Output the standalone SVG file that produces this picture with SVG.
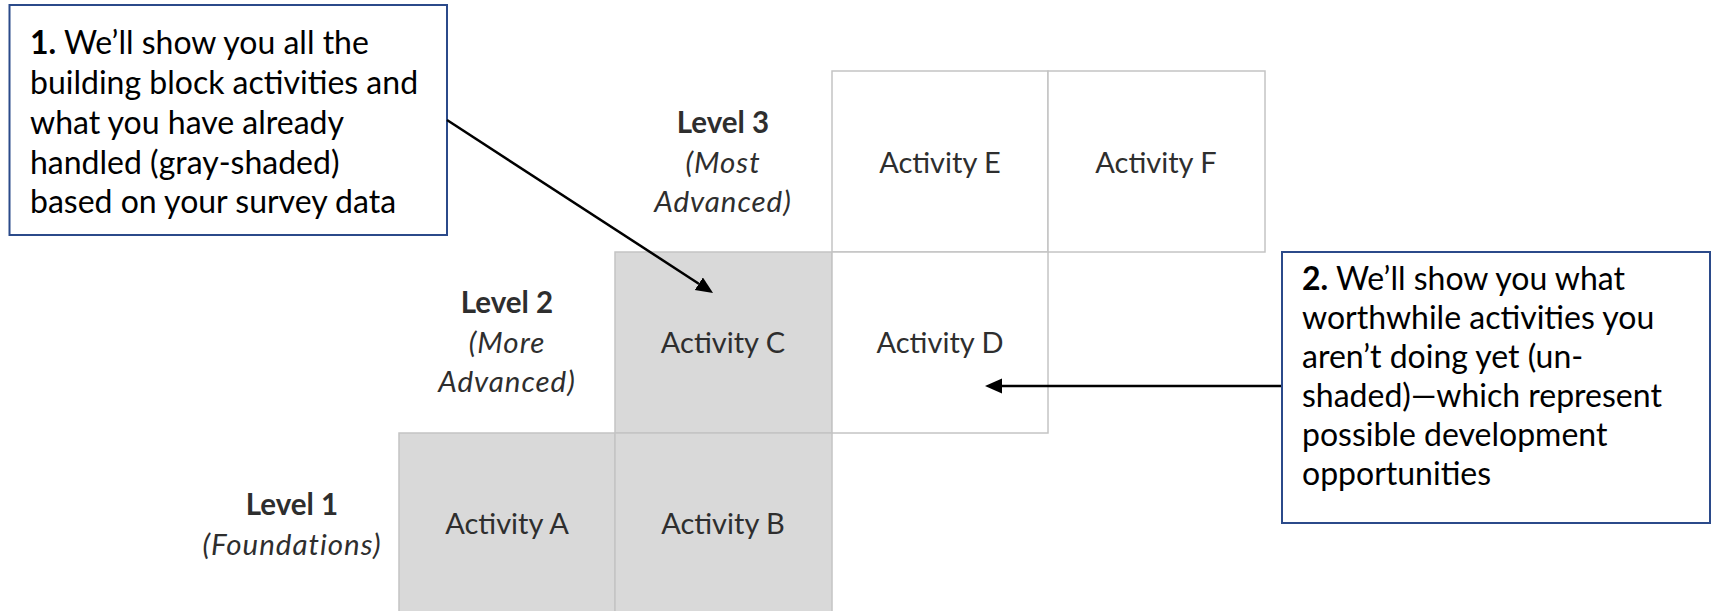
<svg xmlns="http://www.w3.org/2000/svg" width="1711" height="611" viewBox="0 0 1711 611">
<style>
.bg{fill:#ffffff}
.cell{stroke:#c4c4c4;stroke-width:1.5}
.done{fill:#d9d9d9}
.todo{fill:#ffffff}
.lbl{font-family:Lato,"Liberation Sans",sans-serif;font-size:29px;fill:#2e2e2e;text-anchor:middle}
.lvl{font-family:Lato,"Liberation Sans",sans-serif;font-size:29.5px;fill:#2e2e2e;text-anchor:middle}
.b{font-weight:bold}
.i{font-style:italic;letter-spacing:1px}
.note{fill:#ffffff;stroke:#2b4a8a;stroke-width:2}
.nt{font-family:Lato,"Liberation Sans",sans-serif;font-size:32px;fill:#000000}
.conn{stroke:#000000;stroke-width:2.5;fill:none}
</style>
<defs>
<marker id="ah" markerUnits="userSpaceOnUse" markerWidth="18" markerHeight="16" refX="0" refY="7.5" orient="auto" viewBox="0 0 18 16">
<path d="M0,0 L17,7.5 L0,15 Z" fill="#000000"/>
</marker>
</defs>
<rect class="bg" x="0" y="0" width="1711" height="611"/>

<g id="cell-e"><rect class="cell todo" x="832" y="71" width="216" height="181"/><text class="lbl" x="940" y="173">Activity E</text></g>
<g id="cell-f"><rect class="cell todo" x="1048" y="71" width="217" height="181"/><text class="lbl" x="1156" y="173">Activity F</text></g>
<g id="cell-c"><rect class="cell done" x="615" y="252" width="217" height="181"/><text class="lbl" x="723" y="353">Activity C</text></g>
<g id="cell-d"><rect class="cell todo" x="832" y="252" width="216" height="181"/><text class="lbl" x="940" y="353">Activity D</text></g>
<g id="cell-a"><rect class="cell done" x="399" y="433" width="216" height="190"/><text class="lbl" x="507" y="534">Activity A</text></g>
<g id="cell-b"><rect class="cell done" x="615" y="433" width="217" height="190"/><text class="lbl" x="723" y="534">Activity B</text></g>

<g id="level-3"><text class="lvl" x="723"><tspan class="b" x="723" y="133">Level 3</tspan><tspan class="i" x="723" y="173">(Most</tspan><tspan class="i" x="723" y="212">Advanced)</tspan></text></g>
<g id="level-2"><text class="lvl" x="507"><tspan class="b" x="507" y="313">Level 2</tspan><tspan class="i" x="507" y="353">(More</tspan><tspan class="i" x="507" y="392">Advanced)</tspan></text></g>
<g id="level-1"><text class="lvl" x="292"><tspan class="b" x="292" y="515">Level 1</tspan><tspan class="i" x="292" y="555">(Foundations)</tspan></text></g>

<g id="note-1">
<rect class="note" x="9.5" y="5" width="437.5" height="230"/>
<text class="nt"><tspan x="30" y="54"><tspan font-weight="bold">1.</tspan> We’ll show you all the</tspan><tspan x="30" y="94">building block activities and</tspan><tspan x="30" y="134">what you have already</tspan><tspan x="30" y="174">handled (gray-shaded)</tspan><tspan x="30" y="213">based on your survey data</tspan></text>
</g>
<g id="note-2">
<rect class="note" x="1282" y="252" width="428" height="271"/>
<text class="nt"><tspan x="1302" y="290"><tspan font-weight="bold">2.</tspan> We’ll show you what</tspan><tspan x="1302" y="329">worthwhile activities you</tspan><tspan x="1302" y="368">aren’t doing yet (un-</tspan><tspan x="1302" y="407">shaded)—which represent</tspan><tspan x="1302" y="446">possible development</tspan><tspan x="1302" y="485">opportunities</tspan></text>
</g>

<g id="connectors">
<line class="conn" x1="447" y1="120" x2="698.8" y2="283.7" marker-end="url(#ah)"/>
<line class="conn" x1="1281" y1="386" x2="1002" y2="386" marker-end="url(#ah)"/>
</g>
</svg>
